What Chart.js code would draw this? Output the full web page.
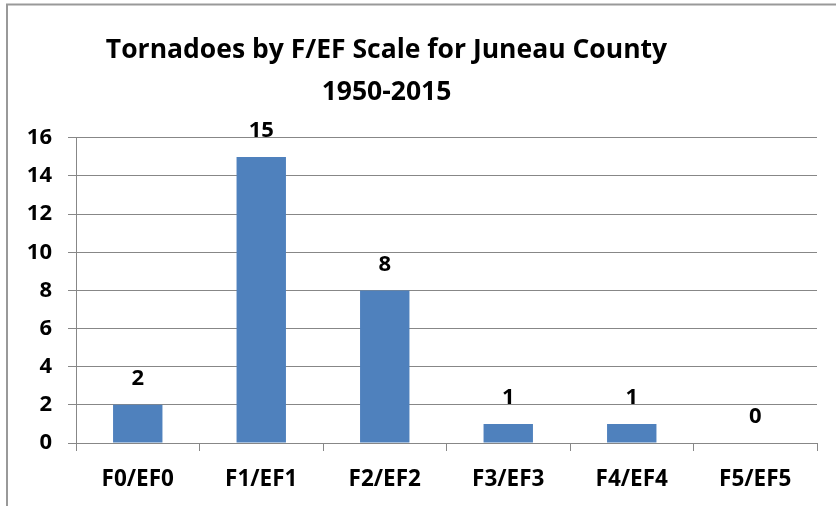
<!DOCTYPE html>
<html>
<head>
<meta charset="utf-8">
<script src="https://cdn.jsdelivr.net/npm/chart.js@4.4.1/dist/chart.umd.min.js"></script>
<style>
html,body{margin:0;padding:0;background:#fff;}
canvas{display:block;}
</style>
</head>
<body>
<canvas id="c" width="836" height="506"></canvas>
<script>
const categories = ["F0/EF0", "F1/EF1", "F2/EF2", "F3/EF3", "F4/EF4", "F5/EF5"];
const tornadoCounts = [2, 15, 8, 1, 1, 0];
const titleLines = ["Tornadoes by F/EF Scale for Juneau County", "1950-2015"];
const yMin = 0, yMax = 16, yStep = 2;

const FONT = "'Open Sans', 'DejaVu Sans', sans-serif";
const GRID = "#878787";

const frame = {
  id: 'frame',
  afterLayout(chart) {
    const tb = chart.titleBlock;
    if (tb) { tb.left -= 22; tb.right -= 22; }
  },
  beforeDraw(chart) {
    const ctx = chart.ctx;
    ctx.save();
    ctx.fillStyle = '#fff';
    ctx.fillRect(0, 0, chart.width, chart.height);
    ctx.strokeStyle = '#999';
    ctx.lineWidth = 2;
    ctx.beginPath();
    ctx.moveTo(7, chart.height);
    ctx.lineTo(7, 4.5);
    ctx.lineTo(chart.width, 4.5);
    ctx.stroke();
    ctx.restore();
  }
};

const valueLabels = {
  id: 'valueLabels',
  afterDatasetsDraw(chart) {
    const ctx = chart.ctx;
    const meta = chart.getDatasetMeta(0);
    ctx.save();
    ctx.font = "bold 22px " + FONT;
    ctx.fillStyle = '#000';
    ctx.textAlign = 'center';
    ctx.textBaseline = 'middle';
    meta.data.forEach((bar, i) => {
      ctx.fillText(String(chart.data.datasets[0].data[i]), bar.x, bar.y - 26);
    });
    ctx.restore();
  }
};

new Chart(document.getElementById('c'), {
  type: 'bar',
  data: {
    labels: categories,
    datasets: [{
      data: tornadoCounts,
      backgroundColor: '#4F81BD',
      borderWidth: 0,
      barPercentage: 0.4,
      categoryPercentage: 1.0
    }]
  },
  options: {
    responsive: false,
    animation: false,
    devicePixelRatio: 1,
    layout: { padding: { left: 0, right: 19, top: 0, bottom: 0 } },
    plugins: {
      legend: { display: false },
      tooltip: { enabled: false },
      title: {
        display: true,
        text: titleLines,
        color: '#000',
        font: { family: FONT, size: 26.5, weight: 'bold', lineHeight: 1.6 },
        padding: { top: 29, bottom: 24 }
      }
    },
    scales: {
      x: {
        grid: { display: true, drawOnChartArea: false, drawTicks: true, tickLength: 8, color: GRID, offset: true },
        border: { display: true, color: GRID, width: 1 },
        ticks: { color: '#000', font: { family: FONT, size: 22.5, weight: 'bold' }, padding: 15, maxRotation: 0 },
        afterFit(scale) { scale.height = 63; }
      },
      y: {
        min: yMin, max: yMax,
        grid: { color: GRID, lineWidth: 1, drawTicks: true, tickLength: 8 },
        border: { display: true, color: GRID, width: 1 },
        ticks: { stepSize: yStep, color: '#000', font: { family: FONT, size: 22, weight: 'bold' }, padding: 16 },
        afterFit(scale) { scale.width = 76; }
      }
    }
  },
  plugins: [frame, valueLabels]
});
</script>
</body>
</html>
